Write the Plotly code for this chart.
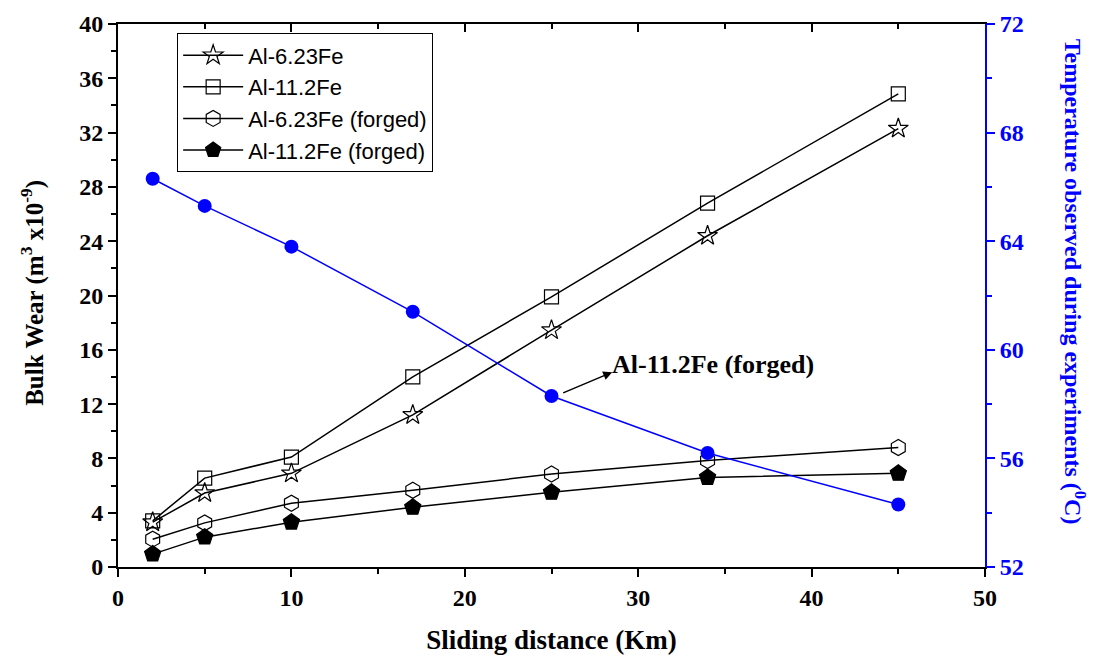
import plotly.graph_objects as go

# Sliding distance (Km)
distance = [2, 5, 10, 17, 25, 34, 45]

# Bulk wear (m^3 x10^-9)
wear_623 = [3.3, 5.45, 6.9, 11.2, 17.45, 24.4, 32.3]
wear_112 = [3.4, 6.55, 8.1, 14.0, 19.9, 26.8, 34.85]
wear_623_forged = [2.05, 3.25, 4.7, 5.65, 6.85, 7.85, 8.8]
wear_112_forged = [0.95, 2.2, 3.3, 4.4, 5.5, 6.6, 6.9]

# Temperature observed during experiments (degC)
temperature = [66.3, 65.3, 63.8, 61.4, 58.3, 56.2, 54.3]

series_names = ["Al-6.23Fe", "Al-11.2Fe", "Al-6.23Fe (forged)", "Al-11.2Fe (forged)"]
series_values = [wear_623, wear_112, wear_623_forged, wear_112_forged]
series_symbols = ["star-open", "square-open", "hexagon-open", "pentagon"]
series_sizes = [15, 14, 16, 17]

SERIF = "Liberation Serif, Times New Roman, serif"
SANS = "Liberation Sans, Arial, sans-serif"
BLUE = "#0000ff"

fig = go.Figure()

for name, vals, sym, sz in zip(series_names, series_values, series_symbols, series_sizes):
    fig.add_trace(go.Scatter(
        x=distance, y=vals, name=name, mode="lines+markers",
        line=dict(color="black", width=1.5),
        marker=dict(symbol=sym, size=sz, color="black",
                    line=dict(color="black", width=1.2)),
        yaxis="y", xaxis="x",
    ))

fig.add_trace(go.Scatter(
    x=distance, y=temperature, name="Temperature", mode="lines+markers",
    line=dict(color=BLUE, width=1.5),
    marker=dict(symbol="circle", size=14, color=BLUE),
    yaxis="y2", xaxis="x", showlegend=False,
))

tick_font = dict(family=SERIF, size=24, color="black", weight="bold")

fig.update_layout(
    width=1096, height=660,
    margin=dict(l=118, r=111, t=24, b=93),
    plot_bgcolor="white", paper_bgcolor="white",
    showlegend=True,
    legend=dict(
        x=0.068, y=0.983, xanchor="left", yanchor="top",
        bgcolor="rgba(255,255,255,0)",
        bordercolor="black", borderwidth=1.2,
        font=dict(family=SANS, size=22, color="black"),
        tracegroupgap=0, itemwidth=60,
    ),
    xaxis=dict(
        range=[0, 50], dtick=10, tick0=0, automargin=False,
        showgrid=False, zeroline=False,
        showline=True, linecolor="black", linewidth=2,
        ticks="outside", ticklen=8, tickwidth=2, tickcolor="black",
        minor=dict(ticks="outside", dtick=5, ticklen=5, tickwidth=2, tickcolor="black"),
        tickfont=tick_font,
        title=dict(text="Sliding distance (Km)",
                   font=dict(family=SERIF, size=27, color="black", weight="bold"),
                   standoff=20),
    ),
    xaxis2=dict(
        range=[0, 50], dtick=10, tick0=0, overlaying="x", side="top",
        showgrid=False, zeroline=False, showticklabels=False, automargin=False,
        showline=True, linecolor="black", linewidth=2,
        ticks="inside", ticklen=8, tickwidth=2, tickcolor="black",
        minor=dict(ticks="inside", dtick=5, ticklen=5, tickwidth=2, tickcolor="black"),
    ),
    yaxis=dict(
        range=[0, 40], dtick=4, tick0=0, automargin=False,
        showgrid=False, zeroline=False,
        showline=True, linecolor="black", linewidth=2,
        ticks="outside", ticklen=8, tickwidth=2, tickcolor="black",
        minor=dict(ticks="outside", dtick=2, ticklen=5, tickwidth=2, tickcolor="black"),
        tickfont=tick_font,
    ),
    yaxis2=dict(
        range=[52, 72], dtick=4, tick0=52, overlaying="y", side="right",
        showgrid=False, zeroline=False, automargin=False,
        showline=True, linecolor=BLUE, linewidth=2,
        ticks="outside", ticklen=8, tickwidth=2, tickcolor=BLUE,
        minor=dict(ticks="outside", dtick=2, ticklen=5, tickwidth=2, tickcolor=BLUE),
        tickfont=dict(family=SERIF, size=24, color=BLUE, weight="bold"),
    ),
)

# Empty trace on the top axis so its mirrored line and inner ticks are drawn
fig.add_trace(go.Scatter(x=[0, 50], y=[None, None], xaxis="x2", yaxis="y",
                         showlegend=False, hoverinfo="skip"))

# Axis titles
fig.add_annotation(
    text="Bulk Wear (m<sup>3</sup> x10<sup>-9</sup>)",
    xref="paper", yref="paper", x=-0.098, y=0.505,
    xanchor="center", yanchor="middle", textangle=-90, showarrow=False,
    font=dict(family=SERIF, size=25, color="black", weight="bold"),
)
fig.add_annotation(
    text="Temperature observed during experiments (<sup>0</sup>C)",
    xref="paper", yref="paper", x=1.104, y=0.525,
    xanchor="center", yanchor="middle", textangle=90, showarrow=False,
    font=dict(family=SERIF, size=24, color=BLUE, weight="bold"),
)

# Callout for the forged Al-11.2Fe curve
fig.add_annotation(
    x=28.5, y=14.35, xref="x", yref="y", text=" ",
    showarrow=True, arrowhead=2, arrowsize=1.2, arrowwidth=1.5, arrowcolor="black",
    ax=-52, ay=22, standoff=0, startstandoff=0,
)
fig.add_annotation(
    x=28.4, y=14.9, xref="x", yref="y",
    text="Al-11.2Fe (forged)",
    xanchor="left", yanchor="middle", showarrow=False,
    font=dict(family=SERIF, size=26, color="black", weight="bold"),
)

fig.write_html("out.html")
